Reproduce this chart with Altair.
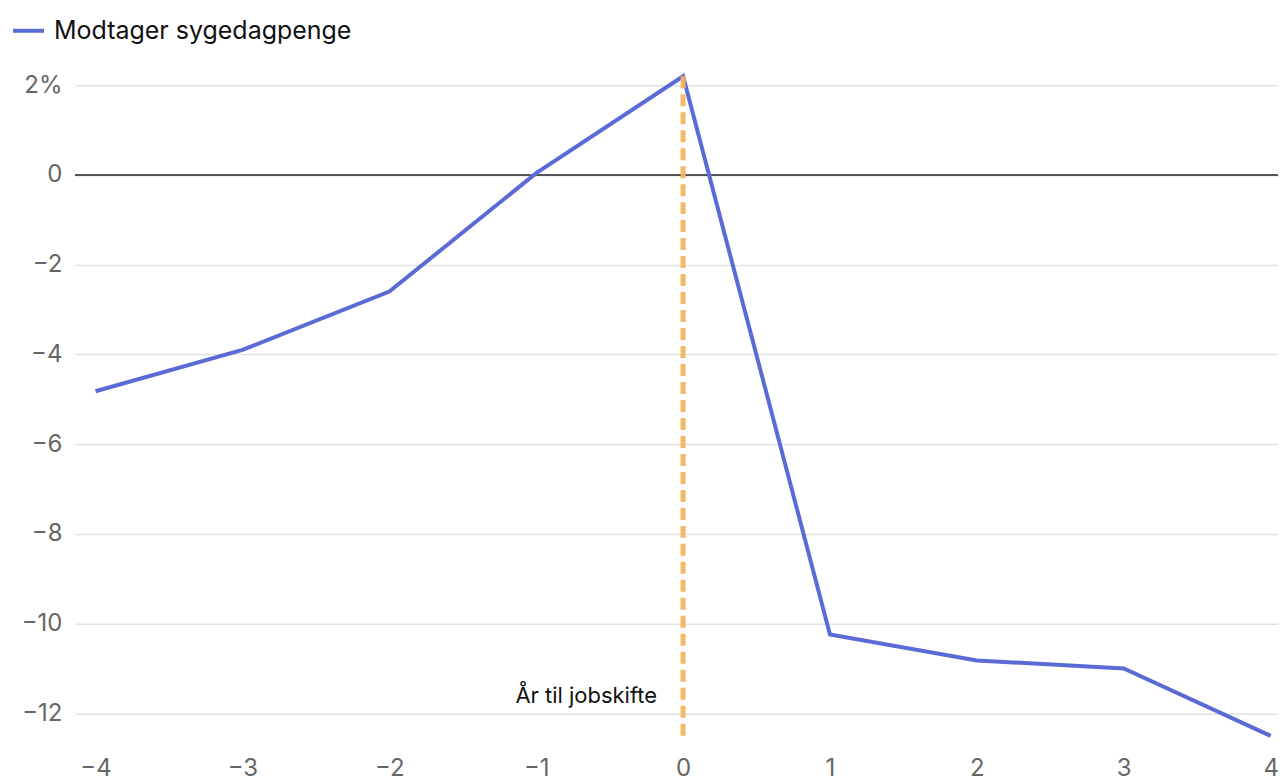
import altair as alt
import pandas as pd

years = [-4, -3, -2, -1, 0, 1, 2, 3, 4]
values = [-4.82, -3.9, -2.6, 0.04, 2.2, -10.24, -10.82, -11.0, -12.5]
series_name = "Modtager sygedagpenge"
y_ticks = [2, 0, -2, -4, -6, -8, -10, -12]
x_ticks = [-4, -3, -2, -1, 0, 1, 2, 3, 4]
annotation = "År til jobskifte"

FONT = "Inter"
df = pd.DataFrame({"year": years, "value": values, "series": [series_name] * len(years)})

xs = alt.Scale(domain=[-4.14, 4.05], nice=False, zero=False)
ys = alt.Scale(domain=[-12.52, 2.4], nice=False, zero=False)

x_axis = alt.Axis(values=x_ticks, labelExpr="replace(format(datum.value, 'd'), '-', '−')",
                  grid=False, domain=False, ticks=False, labelFontSize=24, labelColor="#666666",
                  labelFont=FONT, labelPadding=20, title=None)
y_axis = alt.Axis(values=y_ticks,
                  labelExpr="datum.value == 2 ? '2%' : replace(format(datum.value, 'd'), '-', '−')",
                  grid=True, gridColor="#e2e2e2", gridWidth=1.5, domain=False, ticks=False,
                  labelFontSize=24, labelColor="#666666", labelFont=FONT, labelPadding=13,
                  minExtent=67, maxExtent=67, title=None)

grid_layer = alt.Chart(pd.DataFrame({"v": [0]})).mark_rule(color="#222222", strokeWidth=1.5).encode(
    y=alt.Y("v:Q", scale=ys, axis=y_axis)
)

line = alt.Chart(df).mark_line(strokeWidth=4, strokeJoin="miter").encode(
    x=alt.X("year:Q", scale=xs, axis=x_axis),
    y=alt.Y("value:Q", scale=ys, axis=y_axis),
    color=alt.Color("series:N", scale=alt.Scale(range=["#5B6BD5"]),
                    legend=alt.Legend(title=None, orient="none", legendX=-64, legendY=-54,
                                      symbolType="stroke", symbolStrokeWidth=4, symbolSize=961,
                                      labelFontSize=25, labelColor="#111111", labelFont=FONT,
                                      labelOffset=8, labelLimit=600)),
)

rule_df = pd.DataFrame({"x": [0], "y": [2.2], "y2": [-12.52]})
vrule = alt.Chart(rule_df).mark_rule(color="#F5B45F", strokeWidth=5, strokeDash=[12, 6],
                                     opacity=0.95).encode(
    x=alt.X("x:Q", scale=xs, axis=x_axis),
    y=alt.Y("y:Q", scale=ys),
    y2="y2:Q",
)

text_df = pd.DataFrame({"x": [0], "y": [-11.62], "t": [annotation]})
label = alt.Chart(text_df).mark_text(align="right", baseline="middle", dx=-26, fontSize=22,
                                     font=FONT, color="#111111").encode(
    x=alt.X("x:Q", scale=xs), y=alt.Y("y:Q", scale=ys), text="t:N"
)

chart = alt.layer(grid_layer, line, vrule, label).properties(
    width=1204, height=670, padding={"left": 0, "top": 5, "right": 0, "bottom": 0}
).configure(font=FONT, view=alt.ViewConfig(stroke="transparent", strokeWidth=0))

chart.save("out.html", embed_options={"renderer": "svg", "actions": False})
